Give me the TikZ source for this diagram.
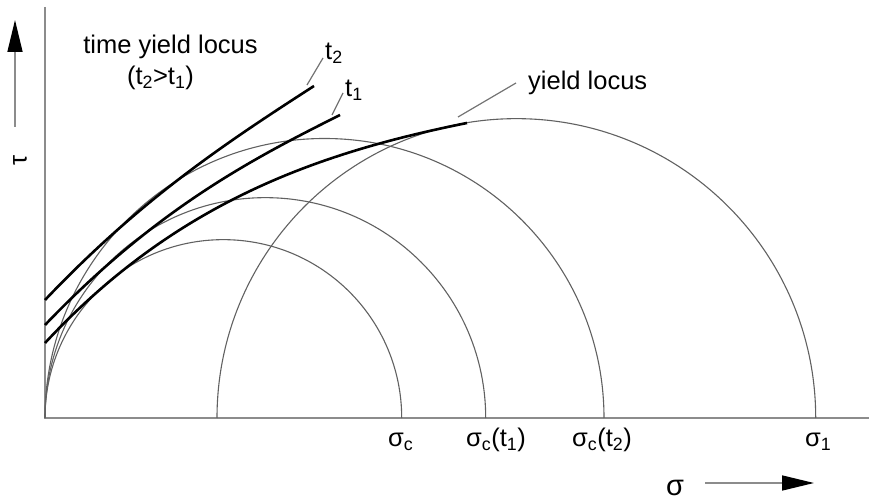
\documentclass[tikz,border=0pt]{standalone}
\usepackage{fontspec}
\setmainfont{Liberation Sans}
\usetikzlibrary{arrows.meta}
\begin{document}
\begin{tikzpicture}[x=1pt,y=1pt,
  axis/.style={draw=black!45,line width=1.8pt},
  mohr/.style={draw=black!62,line width=1.1pt},
  locus/.style={draw=black,line width=2.6pt},
  leader/.style={draw=black!55,line width=1.2pt},
  lbl/.style={inner sep=0pt,font=\fontsize{25.5}{30}\selectfont},
  arr/.style={draw=black!45,line width=1.6pt,-{Triangle[length=32pt,width=15pt,color=black]}}]
\useasboundingbox (0,0) rectangle (869,500);
% axes
\coordinate (O) at (45,82);
\coordinate (Ytop) at (45,493);
\coordinate (Xend) at (869,82);
\draw[axis] (Ytop) -- (O) -- (Xend);
% Mohr circles
\draw[mohr] (O) arc (180:0:178.35);
\draw[mohr] (O) arc (180:0:220.35);
\draw[mohr] (O) arc (180:0:279.5);
\draw[mohr] (217,82) arc (180:0:299.35);
% loci
\draw[locus] (45,157) .. controls (175,297) and (317,347) .. (467,377);
\draw[locus] (45,175) .. controls (155,290) and (250,340) .. (340,385);
\draw[locus] (45,200) .. controls (140,300) and (224,356) .. (314,414);
% leaders
\coordinate (l2a) at (307,415); \coordinate (l2b) at (323,442);
\coordinate (l1a) at (332,385); \coordinate (l1b) at (343,407);
\coordinate (lya) at (458,383); \coordinate (lyb) at (516,417);
\draw[leader] (l2a) -- (l2b);
\draw[leader] (l1a) -- (l1b);
\draw[leader] (lya) -- (lyb);
% labels
\node[lbl,anchor=base] (tyl) at (170.5,446) {time yield locus};
\node[lbl,anchor=base] (tcmp) at (160.5,415) {(t\textsubscript{2}>t\textsubscript{1})};
\node[lbl,anchor=base west] (t2) at (325,440) {t\textsubscript{2}};
\node[lbl,anchor=base west] (t1) at (345,403) {t\textsubscript{1}};
\node[lbl,anchor=base west] (yl) at (528,410) {yield locus};
\node[lbl,anchor=base west] (sc) at (388,53) {σ\textsubscript{c}};
\node[lbl,anchor=base west] (sc1) at (466,53) {σ\textsubscript{c}(t\textsubscript{1})};
\node[lbl,anchor=base west] (sc2) at (572,53) {σ\textsubscript{c}(t\textsubscript{2})};
\node[lbl,anchor=base west] (s1) at (805,53) {σ\textsubscript{1}};
\node[lbl,anchor=base west,font=\fontsize{29}{32}\selectfont] (sig) at (666,5) {σ};
\node[lbl,rotate=90] (tau) at (20,340) {τ};
% axis arrows
\coordinate (sa) at (705,17); \coordinate (sb) at (814,17);
\coordinate (ta) at (15,373); \coordinate (tb) at (15,480);
\draw[arr] (sa) -- (sb);
\draw[arr] (ta) -- (tb);
\end{tikzpicture}
\end{document}
